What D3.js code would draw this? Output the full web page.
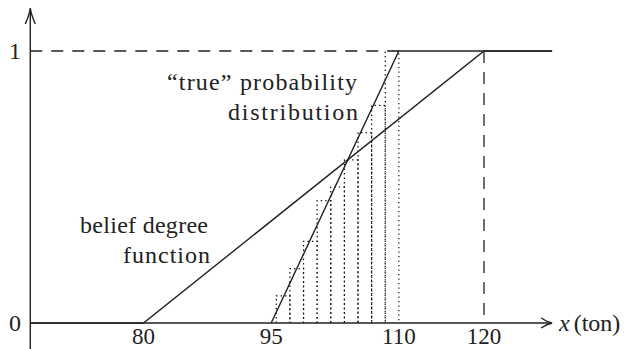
<!DOCTYPE html>
<html>
<head>
<meta charset="utf-8">
<script src="https://cdn.jsdelivr.net/npm/d3@7"></script>
<style>
  body { margin: 0; background: #fff; }
  text { font-family: "Times New Roman", "Liberation Serif", "DejaVu Serif", serif; fill: #222; }
</style>
</head>
<body>
<div class="chart"></div>
<script>
// belief degree function (linear uncertainty distribution) and "true" distribution
const beliefX = [66.7, 80, 120, 128];
const beliefY = [0, 0, 1, 1];
const trueX = [95, 110, 128];
const trueY = [0, 1, 1];

// histogram (frequency) staircase under the true distribution
const binEdges = [95.6, 97.2, 98.8, 100.4, 102, 103.6, 105.2, 106.8, 108.4, 110];
const binHeights = [0.1, 0.2, 0.3, 0.45, 0.5, 0.6, 0.7, 0.8, 1.0];

const xTicks = [80, 95, 110, 120];
const yTicks = [0, 1];

const d3 = window.d3;

let width = 636, height = 349;

let x = d3.scaleLinear().domain([80, 120]).range([143.5, 484]);
let y = d3.scaleLinear().domain([0, 1]).range([323, 51]);

let svg = d3.select(".chart").append("svg")
    .attr("width", width)
    .attr("height", height);

const ink = "#222";

// histogram bars, dotted
let bins = binHeights.map((h, i) => ({x0: binEdges[i], x1: binEdges[i + 1], h: h}));
svg.selectAll(".bin")
    .data(bins)
    .enter().append("path")
    .attr("class", "bin")
    .attr("d", d => "M" + x(d.x0) + "," + y(0) + "V" + y(d.h) + "H" + x(d.x1) + "V" + y(0))
    .attr("fill", "none")
    .attr("stroke", "#111")
    .attr("stroke-width", 1.2)
    .attr("stroke-dasharray", "1.4,3.1");

// dashed guides at level 1 and at x = 120
svg.append("line")
    .attr("x1", x(66.7)).attr("x2", x(110))
    .attr("y1", y(1)).attr("y2", y(1))
    .attr("stroke", ink).attr("stroke-width", 1.3)
    .attr("stroke-dasharray", "12,9");

svg.append("line")
    .attr("x1", x(120)).attr("x2", x(120))
    .attr("y1", y(1)).attr("y2", y(0))
    .attr("stroke", ink).attr("stroke-width", 1.3)
    .attr("stroke-dasharray", "12,9");

// axes
let x0 = x(66.7);
svg.append("line")
    .attr("x1", x0).attr("x2", x(128) - 1)
    .attr("y1", y(0)).attr("y2", y(0))
    .attr("stroke", ink).attr("stroke-width", 1.4);

svg.append("line")
    .attr("x1", x0).attr("x2", x0)
    .attr("y1", height).attr("y2", 10)
    .attr("stroke", ink).attr("stroke-width", 1.4);

// arrow heads (latex style)
let xt = x(128), yt = y(0);
svg.append("path")
    .attr("d", "M" + (xt - 11) + "," + (yt - 5) + "Q" + (xt - 5) + "," + (yt - 1) + " " + xt + "," + yt +
               "Q" + (xt - 5) + "," + (yt + 1) + " " + (xt - 11) + "," + (yt + 5))
    .attr("fill", "none").attr("stroke", ink).attr("stroke-width", 1.4);

let ty = 8;
svg.append("path")
    .attr("d", "M" + (x0 - 5) + "," + (ty + 16) + "Q" + (x0 - 1) + "," + (ty + 7) + " " + x0 + "," + ty +
               "Q" + (x0 + 1) + "," + (ty + 7) + " " + (x0 + 5) + "," + (ty + 16))
    .attr("fill", "none").attr("stroke", ink).attr("stroke-width", 1.4);

// curves
let line = d3.line()
    .x(d => x(d[0]))
    .y(d => y(d[1]));

svg.append("path")
    .datum(beliefX.map((v, i) => [v, beliefY[i]]))
    .attr("d", line)
    .attr("fill", "none").attr("stroke", ink).attr("stroke-width", 1.4);

svg.append("path")
    .datum(trueX.map((v, i) => [v, trueY[i]]))
    .attr("d", line)
    .attr("fill", "none").attr("stroke", ink).attr("stroke-width", 1.4);

// tick labels
svg.selectAll(".xlab")
    .data(xTicks)
    .enter().append("text")
    .attr("class", "xlab")
    .attr("x", d => x(d))
    .attr("y", 344)
    .attr("text-anchor", "middle")
    .attr("font-size", 23)
    .text(d => d);

svg.selectAll(".ylab")
    .data(yTicks)
    .enter().append("text")
    .attr("class", "ylab")
    .attr("x", 21)
    .attr("y", d => y(d) + 8)
    .attr("text-anchor", "end")
    .attr("font-size", 24)
    .text(d => d);

// axis title
let xt2 = svg.append("text")
    .attr("x", 559)
    .attr("y", 331)
    .attr("font-size", 24);
xt2.append("tspan").attr("font-style", "italic").text("x");
xt2.append("tspan").attr("dx", 4).text("(ton)");

// annotations
const notes = [
    {t: "\u201ctrue\u201d probability", x: 357, y: 90, w: 190},
    {t: "distribution", x: 358, y: 120, w: 130},
    {t: "belief degree", x: 208, y: 233, w: 128},
    {t: "function", x: 210, y: 263, w: 87}
];
svg.selectAll(".note")
    .data(notes)
    .enter().append("text")
    .attr("class", "note")
    .attr("x", d => d.x)
    .attr("y", d => d.y)
    .attr("text-anchor", "end")
    .attr("font-size", 24)
    .attr("textLength", d => d.w)
    .text(d => d.t);
</script>
</body>
</html>
